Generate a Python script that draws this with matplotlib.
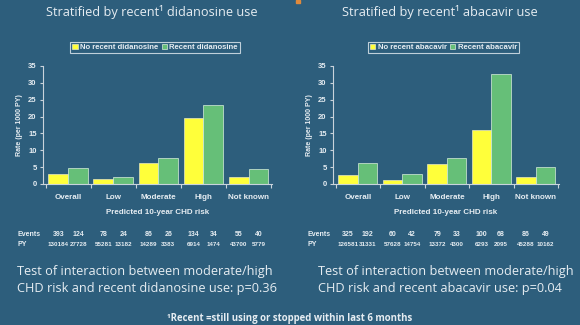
import matplotlib
matplotlib.use("Agg")
import matplotlib.pyplot as plt
import numpy as np

categories = ["Overall", "Low", "Moderate", "High", "Not known"]

ddi_no = [3.0, 1.5, 6.2, 19.6, 2.1]
ddi_yes = [4.7, 2.1, 7.8, 23.3, 4.4]
ddi_events = ["393", "124", "78", "24", "86", "26", "134", "34", "55", "40"]
ddi_py = ["130184", "27728", "55281", "13182", "14289", "3383", "6914", "1474", "43700", "5779"]

aba_no = [2.75, 1.2, 6.0, 16.1, 2.0]
aba_yes = [6.2, 2.9, 7.8, 32.6, 4.9]
aba_events = ["325", "192", "60", "42", "79", "33", "100", "68", "86", "49"]
aba_py = ["126581", "31331", "57628", "14754", "13372", "4300", "6293", "2095", "45288", "10162"]

BG = "#2d5e7c"
YEL = "#ffff3a"
GRN = "#66bf78"
TXT = "#e6edf2"
SMALL = "Liberation Sans"

fig = plt.figure(figsize=(5.8, 3.25), dpi=100)
fig.patch.set_facecolor(BG)

def panel(left, width, no, yes, lab_no, lab_yes, events, py, title, title_x, leg_x):
    ax = fig.add_axes([left, 141/325, width, 118/325])
    ax.set_facecolor(BG)
    x = np.arange(len(categories))
    w = 0.44
    ax.bar(x - w/2, no, w, color=YEL, edgecolor="#e8e8c0", linewidth=0.5, label=lab_no)
    ax.bar(x + w/2, yes, w, color=GRN, edgecolor="#d8eedd", linewidth=0.5, label=lab_yes)
    ax.set_xlim(-0.56, 4.52)
    ax.set_ylim(0, 35)
    ax.set_yticks(range(0, 36, 5))
    ax.set_xticks(x)
    ax.set_xticklabels(categories)
    ax.set_xticks(np.arange(-0.5, 5.0, 1.0), minor=True)
    for s in ["top", "right"]:
        ax.spines[s].set_visible(False)
    for s in ["left", "bottom"]:
        ax.spines[s].set_color("#c9d3db")
        ax.spines[s].set_linewidth(0.8)
    ax.tick_params(axis="x", which="major", length=0, pad=7, labelsize=5.8, labelcolor=TXT)
    ax.tick_params(axis="x", which="minor", length=3, color="#c9d3db", width=0.8)
    ax.tick_params(axis="y", length=2.5, color="#c9d3db", labelsize=5.5, labelcolor=TXT, pad=2)
    for t in ax.get_xticklabels() + ax.get_yticklabels():
        t.set_fontweight("bold")
        t.set_family("Liberation Sans")
    ax.set_xlabel("Predicted 10-year CHD risk", fontsize=5.8, color=TXT, fontweight="bold",
                  family="Liberation Sans", labelpad=6)
    ax.set_ylabel("Rate (per 1000 PY)", fontsize=5.0, color=TXT, fontweight="bold",
                  family="Liberation Sans", labelpad=4)
    leg = ax.legend(loc="lower left", bbox_to_anchor=(leg_x, 1.0 + 13/118), ncol=2,
                    frameon=True, handlelength=0.7, handleheight=0.7,
                    handletextpad=0.3, columnspacing=0.4, borderpad=0.25, borderaxespad=0,
                    prop={"family": "Liberation Sans", "weight": "bold", "size": 5.6})
    leg.get_frame().set_facecolor(BG)
    leg.get_frame().set_edgecolor("#e6edf2")
    leg.get_frame().set_linewidth(0.8)
    leg.get_frame().set_boxstyle("square", pad=0)
    for t in leg.get_texts():
        t.set_color(TXT)
    # events / PY rows aligned with bars
    xs = []
    for i in range(len(categories)):
        xs += [i - w/2, i + w/2]
    trans = matplotlib.transforms.blended_transform_factory(ax.transData, fig.transFigure)
    for xi, e, p in zip(xs, events, py):
        fig.text(xi, 1 - 235/325, e, transform=trans, ha="center", va="center",
                 fontsize=5.0, color=TXT, fontweight="bold", family=SMALL)
        fig.text(xi, 1 - 244/325, p, transform=trans, ha="center", va="center",
                 fontsize=4.5, color=TXT, fontweight="bold", family=SMALL)
    fig.text(title_x, 1 - 12/325, title, ha="center", va="center", fontsize=9.2,
             color=TXT, family="Open Sans")
    return ax

ax1 = panel(43/580, 229/580, ddi_no, ddi_yes, "No recent didanosine", "Recent didanosine",
            ddi_events, ddi_py, "Stratified by recent\u00b9 didanosine use", 152/580, 0.12)
ax2 = panel(333/580, 226/580, aba_no, aba_yes, "No recent abacavir", "Recent abacavir",
            aba_events, aba_py, "Stratified by recent\u00b9 abacavir use", 440/580, 0.155)

for xlab in (18, 308):
    fig.text(xlab/580, 1 - 235/325, "Events", ha="left", va="center", fontsize=5.0,
             color=TXT, fontweight="bold", family=SMALL)
    fig.text(xlab/580, 1 - 244/325, "PY", ha="left", va="center", fontsize=5.0,
             color=TXT, fontweight="bold", family=SMALL)

fig.text(17/580, 1 - 280/325,
         "Test of interaction between moderate/high\nCHD risk and recent didanosine use: p=0.36",
         ha="left", va="center", fontsize=9.2, color=TXT, family="Open Sans", linespacing=1.4)
fig.text(318/580, 1 - 280/325,
         "Test of interaction between moderate/high\nCHD risk and recent abacavir use: p=0.04",
         ha="left", va="center", fontsize=9.2, color=TXT, family="Open Sans", linespacing=1.4)
fig.text(0.5, 1 - 318/325, "\u00b9Recent =still using or stopped within last 6 months",
         ha="center", va="center", fontsize=6.9, color=TXT, fontweight="bold", family="Open Sans")

fig.patches.append(matplotlib.patches.Rectangle((296/580, 1 - 3/325), 4/580, 3/325,
                   transform=fig.transFigure, color="#e08a3c", zorder=5))

fig.savefig("out.png", dpi=100, facecolor=BG)
